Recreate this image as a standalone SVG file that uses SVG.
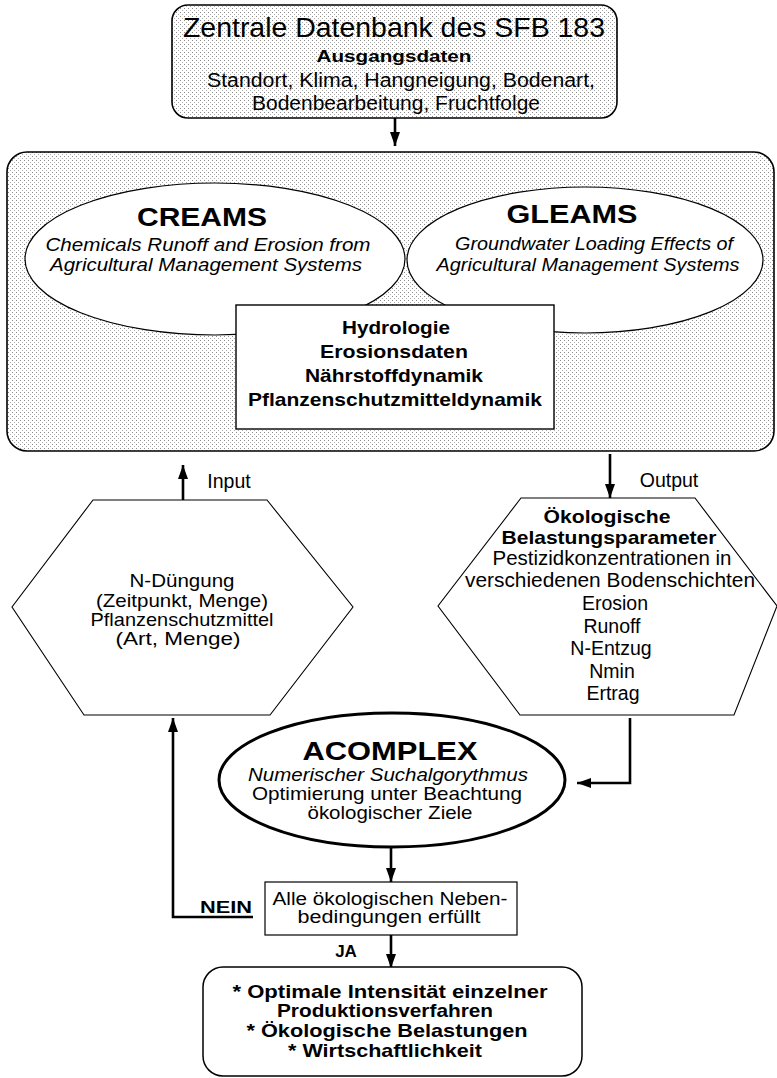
<svg xmlns="http://www.w3.org/2000/svg" width="777" height="1078" viewBox="0 0 777 1078">
<defs>
<pattern id="dots" width="4" height="4" patternUnits="userSpaceOnUse">
<rect width="4" height="4" fill="#ffffff"/>
<rect x="0" y="0" width="1" height="1" fill="#8c8c8c"/>
<rect x="2" y="2" width="1" height="1" fill="#b0b0b0"/>
</pattern>
<marker id="ah" viewBox="0 0 14 10" refX="14" refY="5" markerWidth="14" markerHeight="10" markerUnits="userSpaceOnUse" orient="auto">
<path d="M0,0 L14,5 L0,10 Z" fill="#000"/>
</marker>
<style>
text{font-family:"Liberation Sans",Arial,Helvetica,sans-serif;fill:#000;text-anchor:middle}
.b{font-weight:bold}
.i{font-style:italic}
.shape{stroke:#000;fill:#fff}
.conn{stroke:#000;fill:none;stroke-width:2.6}
</style>
</defs>
<g id="connectors">
<line class="conn" x1="395" y1="118" x2="395" y2="146" marker-end="url(#ah)"/>
<line class="conn" x1="183" y1="500" x2="183" y2="465" marker-end="url(#ah)"/>
<line class="conn" x1="610" y1="454" x2="610" y2="498" marker-end="url(#ah)"/>
<polyline class="conn" points="630,718 630,783 577,783" marker-end="url(#ah)"/>
<line class="conn" x1="391" y1="847" x2="391" y2="882" marker-end="url(#ah)"/>
<polyline class="conn" points="253,917 173,917 173,718" marker-end="url(#ah)"/>
<line class="conn" x1="391" y1="935" x2="391" y2="968" marker-end="url(#ah)"/>
</g>
<g id="datenbank">
<rect x="172" y="5" width="445" height="113" rx="16" fill="url(#dots)" stroke="#000" stroke-width="1.6"/>
<text x="394" y="37" font-size="27.5" textLength="422" lengthAdjust="spacingAndGlyphs">Zentrale Datenbank des SFB 183</text>
<text class="b" x="394" y="62" font-size="16.5" textLength="155" lengthAdjust="spacingAndGlyphs">Ausgangsdaten</text>
<text x="401" y="87" font-size="19.5" textLength="388" lengthAdjust="spacingAndGlyphs">Standort, Klima, Hangneigung, Bodenart,</text>
<text x="396" y="110" font-size="19.5" textLength="288" lengthAdjust="spacingAndGlyphs">Bodenbearbeitung, Fruchtfolge</text>
</g>
<g id="modelle">
<rect x="7" y="152" width="767" height="299" rx="20" fill="url(#dots)" stroke="#000" stroke-width="1.6"/>
</g>
<g id="creams">
<ellipse class="shape" cx="215" cy="259" rx="190" ry="76" stroke-width="1.2"/>
<text class="b" x="202" y="226" font-size="25.5" textLength="130" lengthAdjust="spacingAndGlyphs">CREAMS</text>
<text class="i" x="208" y="251" font-size="19" textLength="325" lengthAdjust="spacingAndGlyphs">Chemicals Runoff and Erosion from</text>
<text class="i" x="206" y="271" font-size="19" textLength="312" lengthAdjust="spacingAndGlyphs">Agricultural Management Systems</text>
</g>
<g id="gleams">
<ellipse class="shape" cx="585" cy="260" rx="178" ry="73" stroke-width="1.2"/>
<text class="b" x="572" y="223" font-size="25.5" textLength="131" lengthAdjust="spacingAndGlyphs">GLEAMS</text>
<text class="i" x="594" y="250" font-size="19" textLength="278" lengthAdjust="spacingAndGlyphs">Groundwater Loading Effects of</text>
<text class="i" x="588" y="271" font-size="19" textLength="303" lengthAdjust="spacingAndGlyphs">Agricultural Management Systems</text>
</g>
<g id="ergebnisse">
<rect class="shape" x="236" y="305" width="318" height="124" stroke-width="1.4"/>
<text class="b" x="396" y="334" font-size="19" textLength="108" lengthAdjust="spacingAndGlyphs">Hydrologie</text>
<text class="b" x="394" y="358" font-size="19" textLength="148" lengthAdjust="spacingAndGlyphs">Erosionsdaten</text>
<text class="b" x="394" y="382" font-size="19" textLength="178" lengthAdjust="spacingAndGlyphs">Nährstoffdynamik</text>
<text class="b" x="395" y="406" font-size="19" textLength="294" lengthAdjust="spacingAndGlyphs">Pflanzenschutzmitteldynamik</text>
</g>
<g id="labels">
<text x="229" y="488" font-size="19.5">Input</text>
<text x="669" y="487" font-size="19.5">Output</text>
<text class="b" x="226" y="913" font-size="17" textLength="52" lengthAdjust="spacingAndGlyphs">NEIN</text>
<text class="b" x="346" y="957" font-size="17">JA</text>
</g>
<g id="input">
<polygon class="shape" points="93,500 267,500 353,607 270,715 84,715 12,607" stroke-width="1.1"/>
<text x="182" y="587" font-size="19" textLength="105" lengthAdjust="spacingAndGlyphs">N-Düngung</text>
<text x="182" y="607" font-size="19" textLength="172" lengthAdjust="spacingAndGlyphs">(Zeitpunkt, Menge)</text>
<text x="182" y="626" font-size="19" textLength="183" lengthAdjust="spacingAndGlyphs">Pflanzenschutzmittel</text>
<text x="178" y="645" font-size="19" textLength="125" lengthAdjust="spacingAndGlyphs">(Art, Menge)</text>
</g>
<g id="output">
<polygon class="shape" points="521,498 695,498 777,606 734,715 520,715 438,606" stroke-width="1.1"/>
<text class="b" x="607" y="523" font-size="19" textLength="127" lengthAdjust="spacingAndGlyphs">Ökologische</text>
<text class="b" x="609" y="544" font-size="19" textLength="215" lengthAdjust="spacingAndGlyphs">Belastungsparameter</text>
<text x="612" y="565" font-size="19.5" textLength="239" lengthAdjust="spacingAndGlyphs">Pestizidkonzentrationen in</text>
<text x="610" y="587" font-size="19.5" textLength="290" lengthAdjust="spacingAndGlyphs">verschiedenen Bodenschichten</text>
<text x="615" y="610" font-size="19.5">Erosion</text>
<text x="612" y="633" font-size="19.5">Runoff</text>
<text x="611" y="655" font-size="19.5">N-Entzug</text>
<text x="612" y="678" font-size="19.5">Nmin</text>
<text x="613" y="700" font-size="19.5">Ertrag</text>
</g>
<g id="acomplex">
<ellipse class="shape" cx="392" cy="780" rx="173" ry="67" stroke-width="3"/>
<text class="b" x="390" y="760" font-size="26.5" textLength="175" lengthAdjust="spacingAndGlyphs">ACOMPLEX</text>
<text class="i" x="388" y="781" font-size="18.5" textLength="280" lengthAdjust="spacingAndGlyphs">Numerischer Suchalgorythmus</text>
<text x="387" y="800" font-size="18.5" textLength="270" lengthAdjust="spacingAndGlyphs">Optimierung unter Beachtung</text>
<text x="390" y="819" font-size="18.5" textLength="165" lengthAdjust="spacingAndGlyphs">ökologischer Ziele</text>
</g>
<g id="entscheidung">
<rect class="shape" x="265" y="882" width="252" height="53" stroke-width="1.2"/>
<text x="390" y="905" font-size="17.5" textLength="235" lengthAdjust="spacingAndGlyphs">Alle ökologischen Neben-</text>
<text x="389" y="923" font-size="17.5" textLength="183" lengthAdjust="spacingAndGlyphs">bedingungen erfüllt</text>
</g>
<g id="ergebnis">
<rect class="shape" x="203" y="967" width="379" height="109" rx="20" stroke-width="1.5"/>
<text class="b" x="390" y="998" font-size="18.5" textLength="315" lengthAdjust="spacingAndGlyphs">* Optimale Intensität einzelner</text>
<text class="b" x="385" y="1017" font-size="18.5" textLength="216" lengthAdjust="spacingAndGlyphs">Produktionsverfahren</text>
<text class="b" x="387" y="1037" font-size="18.5" textLength="281" lengthAdjust="spacingAndGlyphs">* Ökologische Belastungen</text>
<text class="b" x="385" y="1057" font-size="18.5" textLength="194" lengthAdjust="spacingAndGlyphs">* Wirtschaftlichkeit</text>
</g>
</svg>
